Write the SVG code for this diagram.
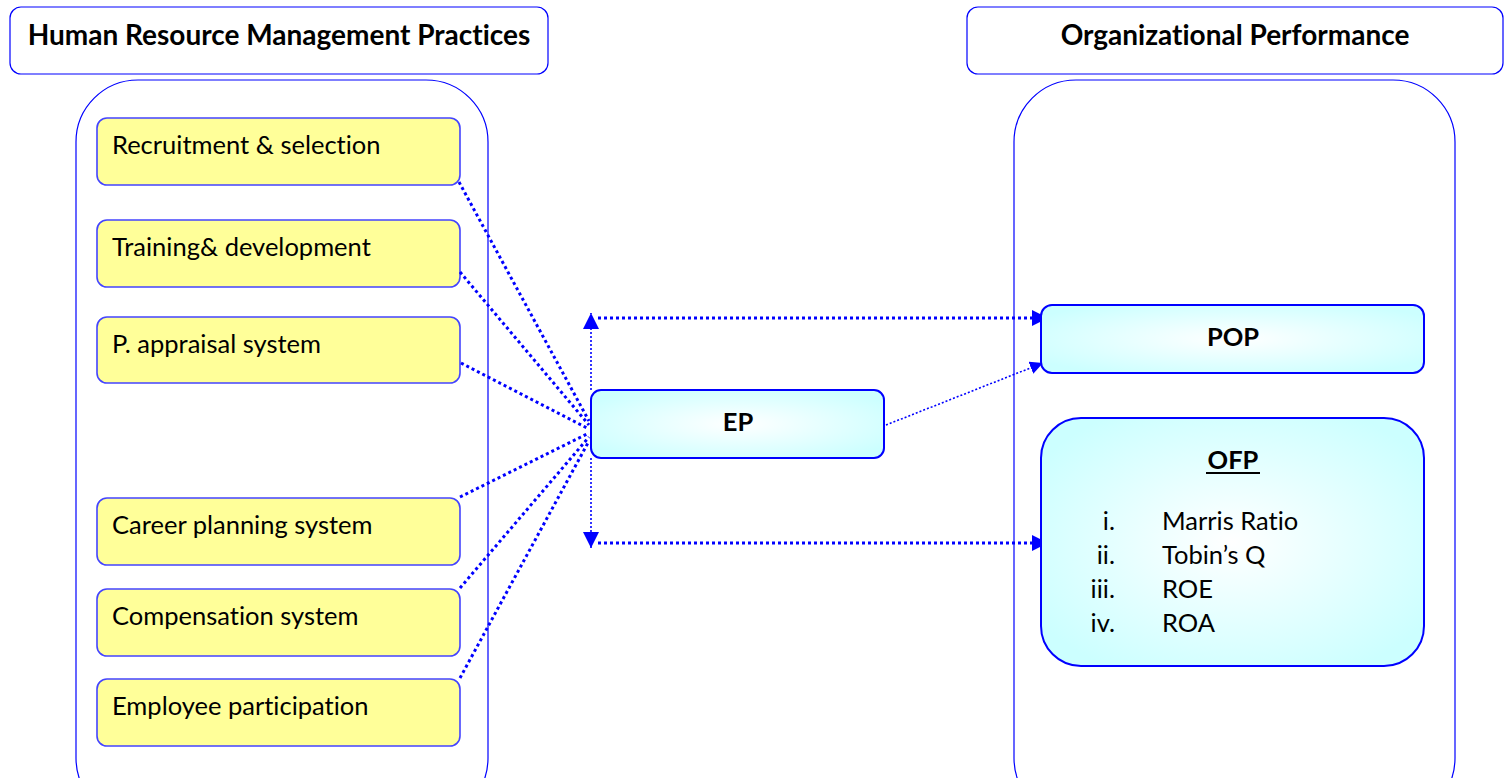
<svg xmlns="http://www.w3.org/2000/svg" width="1505" height="778" viewBox="0 0 1505 778">
<defs>
<radialGradient id="cyan" cx="50%" cy="50%" r="60%">
<stop offset="0" stop-color="#FFFFFF"/>
<stop offset="1" stop-color="#CCFFFF"/>
</radialGradient>
<marker id="arr" viewBox="0 0 10 10" refX="10" refY="5" markerWidth="16" markerHeight="16" markerUnits="userSpaceOnUse" orient="auto">
<path d="M0,0 L10,5 L0,10 Z" fill="#0000FF"/>
</marker>
<marker id="arrS" viewBox="0 0 10 10" refX="10" refY="5" markerWidth="13" markerHeight="13" markerUnits="userSpaceOnUse" orient="auto">
<path d="M0,0 L10,5 L0,10 Z" fill="#0000FF"/>
</marker>
</defs>
<style>
text{font-family:Lato,"Liberation Sans",sans-serif;fill:#000;font-variant-ligatures:none;font-feature-settings:"liga" 0,"dlig" 0}
.hdr{fill:#fff;stroke:#0000FF;stroke-width:1.2}
.cont{fill:none;stroke:#0000FF;stroke-width:1.2}
.yel{fill:#FFFF99;stroke:#4444FF;stroke-width:1.6}
.cy{fill:url(#cyan);stroke:#0000FF;stroke-width:2}
.ht{font-size:28px;font-weight:bold;text-anchor:middle}
.lb{font-size:25.5px}
.bt{font-size:25.5px;font-weight:bold;text-anchor:middle}
.thick{fill:none;stroke:#0000FF;stroke-width:3;stroke-dasharray:3 3}
.thin{fill:none;stroke:#0000FF;stroke-width:1.6;stroke-dasharray:2 2}
</style>
<g id="hrm-header"><rect class="hdr" x="10" y="7" width="538" height="67" rx="11"/><text class="ht" x="279" y="45">Human Resource Management Practices</text></g>
<g id="op-header"><rect class="hdr" x="967" y="7" width="536" height="67" rx="11"/><text class="ht" x="1235" y="45">Organizational Performance</text></g>
<g id="hrm-container"><rect class="cont" x="76" y="80" width="412" height="740" rx="62"/></g>
<g id="op-container"><rect class="cont" x="1014" y="80" width="441" height="740" rx="62"/></g>
<g id="n1"><rect class="yel" x="97" y="118" width="363" height="67" rx="10"/><text class="lb" x="112" y="154">Recruitment &amp; selection</text></g>
<g id="n2"><rect class="yel" x="97" y="220" width="363" height="67" rx="10"/><text class="lb" x="112" y="256">Training&amp; development</text></g>
<g id="n3"><rect class="yel" x="97" y="317" width="363" height="66" rx="10"/><text class="lb" x="112" y="353">P. appraisal system</text></g>
<g id="n4"><rect class="yel" x="97" y="498" width="363" height="67" rx="10"/><text class="lb" x="112" y="534">Career planning system</text></g>
<g id="n5"><rect class="yel" x="97" y="589" width="363" height="67" rx="10"/><text class="lb" x="112" y="625">Compensation system</text></g>
<g id="n6"><rect class="yel" x="97" y="679" width="363" height="67" rx="10"/><text class="lb" x="112" y="715">Employee participation</text></g>
<g id="connectors">
<line class="thick" x1="459" y1="182" x2="589" y2="421"/>
<line class="thick" x1="460" y1="272" x2="589" y2="425"/>
<line class="thick" x1="461" y1="363" x2="589" y2="429"/>
<line class="thick" x1="460" y1="497" x2="589" y2="433"/>
<line class="thick" x1="460" y1="588" x2="589" y2="437"/>
<line class="thick" x1="460" y1="678" x2="589" y2="441"/>
<line class="thin" x1="591" y1="390" x2="591" y2="313" marker-end="url(#arr)"/>
<line class="thin" x1="591" y1="458" x2="591" y2="548" marker-end="url(#arr)"/>
<line class="thick" x1="598" y1="318" x2="1048" y2="318" marker-end="url(#arr)"/>
<line class="thick" x1="598" y1="543" x2="1048" y2="543" marker-end="url(#arr)"/>
<line class="thin" x1="886" y1="425" x2="1043" y2="363" marker-end="url(#arrS)"/>
</g>
<g id="ep"><rect class="cy" x="591" y="390" width="293" height="68" rx="10"/><text class="bt" x="738" y="431">EP</text></g>
<g id="pop"><rect class="cy" x="1041" y="305" width="383" height="68" rx="11"/><text class="bt" x="1233" y="346">POP</text></g>
<g id="ofp"><rect class="cy" x="1041" y="418" width="383" height="248" rx="40"/>
<text class="bt" x="1233" y="469">OFP</text>
<line x1="1206" y1="473" x2="1260" y2="473" stroke="#000" stroke-width="1.8"/>
<text class="lb" x="1115" y="530" text-anchor="end">i.</text><text class="lb" x="1162" y="530">Marris Ratio</text>
<text class="lb" x="1115" y="564" text-anchor="end">ii.</text><text class="lb" x="1162" y="564">Tobin’s Q</text>
<text class="lb" x="1115" y="598" text-anchor="end">iii.</text><text class="lb" x="1162" y="598">ROE</text>
<text class="lb" x="1115" y="632" text-anchor="end">iv.</text><text class="lb" x="1162" y="632">ROA</text>
</g>
</svg>
